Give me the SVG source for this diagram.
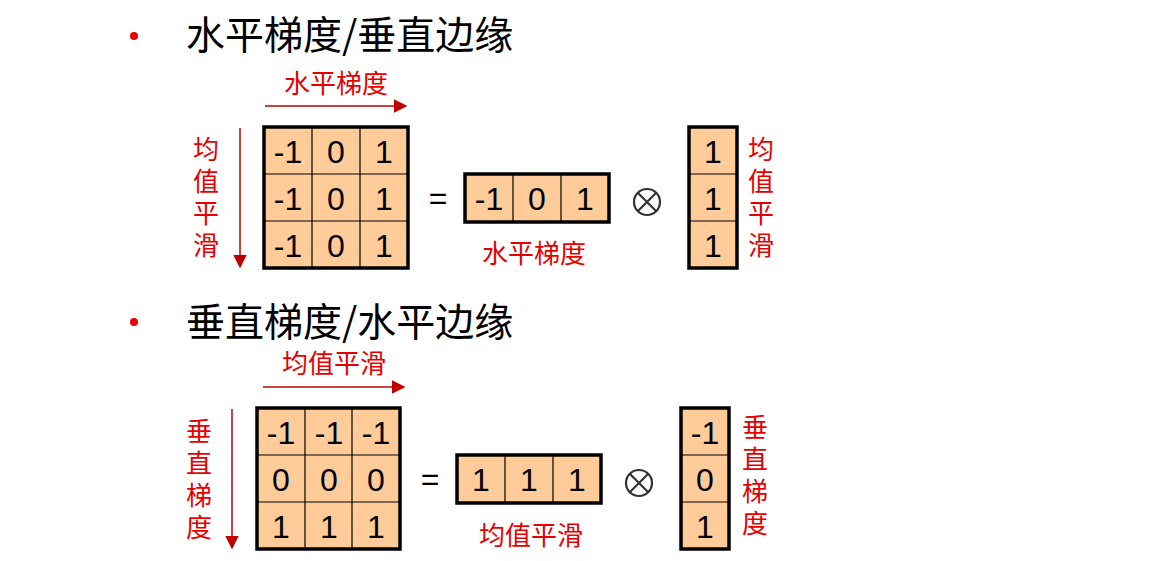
<svg xmlns="http://www.w3.org/2000/svg" width="1152" height="561" viewBox="0 0 1152 561">
<style>
.t{font-family:"Noto Sans CJK SC","Liberation Sans",sans-serif;font-size:39px;fill:#000}
.r{font-family:"Noto Sans CJK SC",sans-serif;font-size:26px;fill:#e60000}
.n{font-family:"Liberation Sans",sans-serif;font-size:32px;fill:#000;text-anchor:middle}
.box{fill:#ffcc99;stroke:#000;stroke-width:3.5}
.ln{stroke:#000;stroke-width:1.2}
.ar{stroke:#c00000;stroke-width:1.5;fill:none}
</style>
<defs>
<marker id="b" viewBox="0 0 10 10" refX="9" refY="5" markerWidth="9" markerHeight="9" orient="auto"><path d="M0,0L10,5L0,10z" fill="#c00000"/></marker></defs>
<circle cx="134" cy="36" r="4" fill="#e60000"/>
<circle cx="134" cy="322" r="4" fill="#e60000"/>
<text class="t" x="186" y="49">水平梯度/垂直边缘</text>
<text class="t" x="186" y="336">垂直梯度/水平边缘</text>
<g id="connectors">
<line class="ar" x1="265" y1="106" x2="406" y2="106" marker-end="url(#b)"/>
<line class="ar" x1="240" y1="128" x2="240" y2="267" marker-end="url(#b)"/>
<line class="ar" x1="263" y1="387" x2="404" y2="387" marker-end="url(#b)"/>
<line class="ar" x1="232" y1="409" x2="232" y2="548" marker-end="url(#b)"/>
</g>
<g id="top-labels">
<text class="r" x="284" y="93">水平梯度</text>
<text class="r" x="193" y="159">均</text><text class="r" x="193" y="191">值</text><text class="r" x="193" y="223">平</text><text class="r" x="193" y="255">滑</text>
<text class="r" x="482" y="263">水平梯度</text>
<text class="r" x="748" y="159">均</text><text class="r" x="748" y="191">值</text><text class="r" x="748" y="223">平</text><text class="r" x="748" y="255">滑</text>
</g>
<g id="m1">
<rect class="box" x="264" y="127" width="144" height="141"/>
<line class="ln" x1="312" y1="127" x2="312" y2="268"/><line class="ln" x1="360" y1="127" x2="360" y2="268"/>
<line class="ln" x1="264" y1="174" x2="408" y2="174"/><line class="ln" x1="264" y1="221" x2="408" y2="221"/>
<text class="n" x="288" y="163">-1</text><text class="n" x="336" y="163">0</text><text class="n" x="384" y="163">1</text>
<text class="n" x="288" y="210">-1</text><text class="n" x="336" y="210">0</text><text class="n" x="384" y="210">1</text>
<text class="n" x="288" y="257">-1</text><text class="n" x="336" y="257">0</text><text class="n" x="384" y="257">1</text>
</g>
<text class="n" x="438" y="209">=</text>
<g id="r1">
<rect class="box" x="465" y="174" width="144" height="48"/>
<line class="ln" x1="513" y1="174" x2="513" y2="222"/><line class="ln" x1="561" y1="174" x2="561" y2="222"/>
<text class="n" x="489" y="210">-1</text><text class="n" x="537" y="210">0</text><text class="n" x="585" y="210">1</text>
</g>
<g id="o1"><circle cx="647" cy="202" r="13" fill="none" stroke="#333" stroke-width="2.2"/><path d="M638,193L656,211M656,193L638,211" stroke="#333" stroke-width="2.2"/></g>
<g id="c1">
<rect class="box" x="689" y="127" width="48" height="141"/>
<line class="ln" x1="689" y1="174" x2="737" y2="174"/><line class="ln" x1="689" y1="221" x2="737" y2="221"/>
<text class="n" x="713" y="163">1</text><text class="n" x="713" y="210">1</text><text class="n" x="713" y="257">1</text>
</g>
<g id="bottom-labels">
<text class="r" x="282" y="373">均值平滑</text>
<text class="r" x="186" y="441">垂</text><text class="r" x="186" y="473">直</text><text class="r" x="186" y="505">梯</text><text class="r" x="186" y="537">度</text>
<text class="r" x="479" y="545">均值平滑</text>
<text class="r" x="742" y="437">垂</text><text class="r" x="742" y="469">直</text><text class="r" x="742" y="501">梯</text><text class="r" x="742" y="533">度</text>
</g>
<g id="m2">
<rect class="box" x="257" y="408" width="143" height="141"/>
<line class="ln" x1="305" y1="408" x2="305" y2="549"/><line class="ln" x1="352" y1="408" x2="352" y2="549"/>
<line class="ln" x1="257" y1="455" x2="400" y2="455"/><line class="ln" x1="257" y1="502" x2="400" y2="502"/>
<text class="n" x="281" y="444">-1</text><text class="n" x="329" y="444">-1</text><text class="n" x="376" y="444">-1</text>
<text class="n" x="281" y="491">0</text><text class="n" x="329" y="491">0</text><text class="n" x="376" y="491">0</text>
<text class="n" x="281" y="538">1</text><text class="n" x="329" y="538">1</text><text class="n" x="376" y="538">1</text>
</g>
<text class="n" x="430" y="490">=</text>
<g id="r2">
<rect class="box" x="457" y="455" width="144" height="48"/>
<line class="ln" x1="505" y1="455" x2="505" y2="503"/><line class="ln" x1="553" y1="455" x2="553" y2="503"/>
<text class="n" x="481" y="491">1</text><text class="n" x="529" y="491">1</text><text class="n" x="577" y="491">1</text>
</g>
<g id="o2"><circle cx="639" cy="483" r="13" fill="none" stroke="#333" stroke-width="2.2"/><path d="M630,474L648,492M648,474L630,492" stroke="#333" stroke-width="2.2"/></g>
<g id="c2">
<rect class="box" x="681" y="408" width="48" height="141"/>
<line class="ln" x1="681" y1="455" x2="729" y2="455"/><line class="ln" x1="681" y1="502" x2="729" y2="502"/>
<text class="n" x="705" y="444">-1</text><text class="n" x="705" y="491">0</text><text class="n" x="705" y="538">1</text>
</g>
</svg>
